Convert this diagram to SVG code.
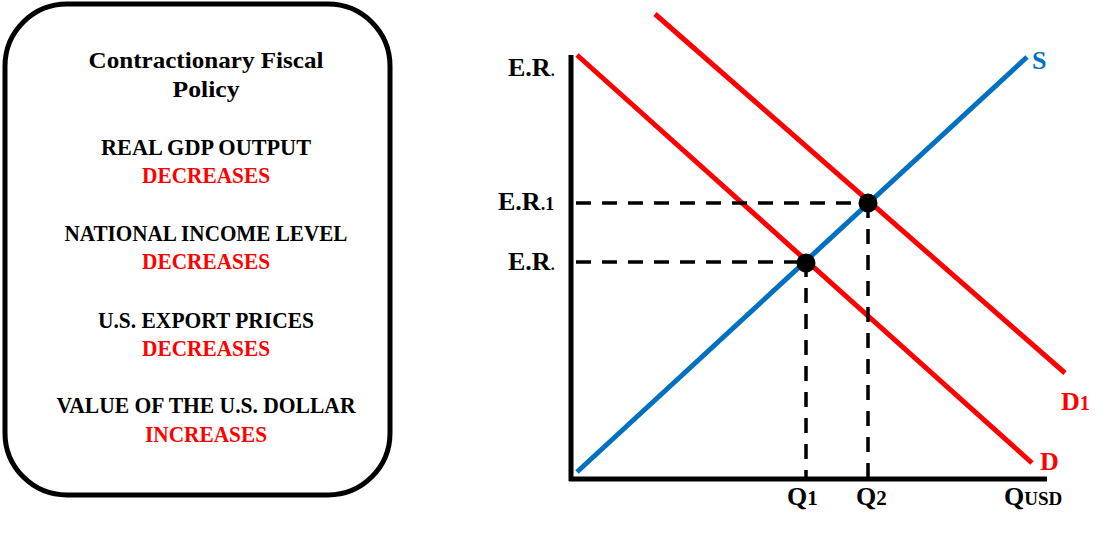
<svg xmlns="http://www.w3.org/2000/svg" width="1109" height="537" viewBox="0 0 1109 537">
<style>
text{font-family:"Liberation Serif","DejaVu Serif",serif;font-weight:bold}
.l{font-size:24px;fill:#000;text-anchor:middle}
.r{font-size:24px;fill:#ff0000;text-anchor:middle}
.ax{font-size:26px;fill:#000}
.dash{stroke:#000;stroke-width:3.5;stroke-dasharray:15 11;fill:none}
</style>
<rect width="1109" height="537" fill="#fff"/>
<g id="info-box">
<rect x="5" y="4" width="385" height="491" rx="62" ry="62" fill="#fff" stroke="#000" stroke-width="5"/>
<text class="l" x="206" y="68" textLength="235" lengthAdjust="spacingAndGlyphs">Contractionary Fiscal</text>
<text class="l" x="206" y="97" textLength="67" lengthAdjust="spacingAndGlyphs">Policy</text>
<text class="l" x="206" y="155" textLength="210" lengthAdjust="spacingAndGlyphs">REAL GDP OUTPUT</text>
<text class="r" x="206" y="183" textLength="128" lengthAdjust="spacingAndGlyphs">DECREASES</text>
<text class="l" x="206" y="241" textLength="283" lengthAdjust="spacingAndGlyphs">NATIONAL INCOME LEVEL</text>
<text class="r" x="206" y="269" textLength="128" lengthAdjust="spacingAndGlyphs">DECREASES</text>
<text class="l" x="206" y="328" textLength="216" lengthAdjust="spacingAndGlyphs">U.S. EXPORT PRICES</text>
<text class="r" x="206" y="356" textLength="128" lengthAdjust="spacingAndGlyphs">DECREASES</text>
<text class="l" x="206" y="413" textLength="299" lengthAdjust="spacingAndGlyphs">VALUE OF THE U.S. DOLLAR</text>
<text class="r" x="206" y="442" textLength="122" lengthAdjust="spacingAndGlyphs">INCREASES</text>
</g>
<g id="axes">
<line x1="571" y1="55" x2="571" y2="481" stroke="#000" stroke-width="5"/>
<line x1="569" y1="479" x2="1047" y2="479" stroke="#000" stroke-width="5"/>
</g>
<g id="curve-S">
<line x1="577" y1="472" x2="1027" y2="57" stroke="#0070c0" stroke-width="5"/>
<text x="1032" y="69" font-size="26" fill="#0070c0">S</text>
</g>
<g id="curve-D">
<line x1="577" y1="55" x2="1032" y2="463" stroke="#ff0000" stroke-width="5"/>
<text x="1040" y="470" font-size="26" fill="#ff0000">D</text>
</g>
<g id="curve-D1">
<line x1="655" y1="14" x2="1065" y2="373" stroke="#ff0000" stroke-width="5"/>
<text x="1061" y="410" font-size="26" fill="#ff0000">D<tspan font-size="20">1</tspan></text>
</g>
<g id="connectors">
<line class="dash" x1="576" y1="203" x2="868" y2="203"/>
<line class="dash" x1="576" y1="262" x2="806" y2="262"/>
<line class="dash" x1="806" y1="262" x2="806" y2="477"/>
<line class="dash" x1="868" y1="203" x2="868" y2="477"/>
</g>
<g id="point-1"><circle cx="806" cy="263" r="9.5" fill="#000"/></g>
<g id="point-2"><circle cx="868" cy="203" r="9.5" fill="#000"/></g>
<g id="labels">
<text class="ax" x="508" y="76">E.R<tspan font-size="16">.</tspan></text>
<text class="ax" x="498" y="210">E.R<tspan font-size="18">.1</tspan></text>
<text class="ax" x="508" y="270">E.R<tspan font-size="16">.</tspan></text>
<text class="ax" x="787" y="505">Q<tspan font-size="21">1</tspan></text>
<text class="ax" x="856" y="505">Q<tspan font-size="21">2</tspan></text>
<text class="ax" x="1004" y="505">Q<tspan font-size="19">USD</tspan></text>
</g>
</svg>
